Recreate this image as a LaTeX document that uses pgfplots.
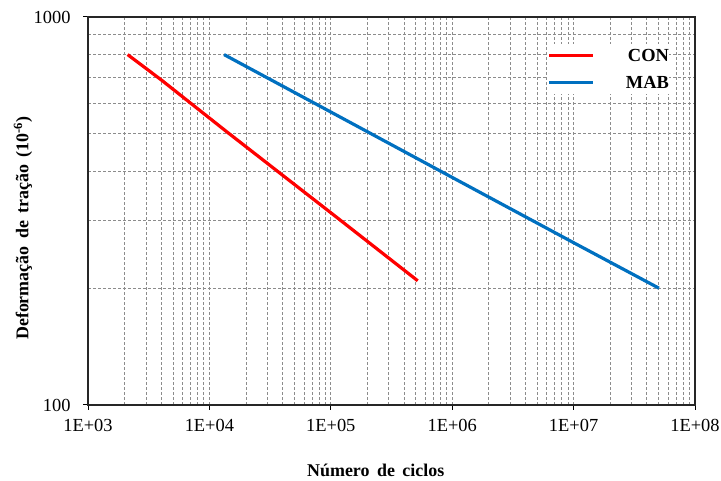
\documentclass[border=0pt]{standalone}
\usepackage{fontspec}
\setmainfont{Liberation Serif}
\usepackage{pgfplots}
\pgfplotsset{compat=1.18}
\definecolor{conred}{HTML}{FF0000}
\definecolor{mabblue}{HTML}{0070C0}
\definecolor{gridgray}{HTML}{8C8C8C}
\begin{document}
\begin{tikzpicture}
\path[use as bounding box] (-88bp,-76bp) rectangle (633bp,405bp);
\begin{axis}[
  at={(0,0)}, anchor=south west,
  scale only axis, width=607bp, height=388bp,
  xmode=log, ymode=log,
  xmin=1e3, xmax=1e8, ymin=100, ymax=1000,
  xtick={1e3,1e4,1e5,1e6,1e7,1e8},
  xticklabels={1E+03,1E+04,1E+05,1E+06,1E+07,1E+08},
  ytick={100,1000}, yticklabels={100,1000},
  minor xtick={2e3,3e3,4e3,5e3,6e3,7e3,8e3,9e3,
               2e4,3e4,4e4,5e4,6e4,7e4,8e4,9e4,
               2e5,3e5,4e5,5e5,6e5,7e5,8e5,9e5,
               2e6,3e6,4e6,5e6,6e6,7e6,8e6,9e6,
               2e7,3e7,4e7,5e7,6e7,7e7,8e7,9e7},
  minor ytick={200,300,400,500,600,700,800,900},
  grid=both,
  major grid style={gridgray, dash pattern=on 3bp off 2bp, line width=0.7bp},
  minor grid style={gridgray, dash pattern=on 3bp off 2bp, line width=0.7bp},
  tick align=outside, xtick pos=bottom, ytick pos=left,
  major tick length=5bp, minor tick length=0pt,
  tick style={black, line width=1bp},
  axis line style={black!85, line width=1.3bp},
  tick label style={font=\fontsize{18.5}{21}\selectfont},
  xticklabel style={yshift=-6bp},
  yticklabel style={xshift=-9bp},
  xlabel={\textbf{Número\, de\, ciclos}},
  ylabel={\textbf{Deformação\, de\, tração\, (10\textsuperscript{-6})}},
  label style={font=\fontsize{18}{21}\selectfont},
  xlabel style={at={(axis description cs:0.474,-0.169)}, anchor=center},
  ylabel style={at={(axis description cs:-0.107,0.456)}, anchor=center},
  legend style={at={(axis description cs:0.757,0.931)}, anchor=north west,
    draw=none, fill=white, inner xsep=0pt, inner ysep=5bp, row sep=14bp,
    nodes={inner sep=0pt, text height=13bp, text depth=0bp},
    font=\fontsize{18.5}{21}\selectfont},
  legend image code/.code={\draw[#1] (0bp,0bp) -- (44bp,0bp);},
]
\addplot[conred, line width=3.2bp] coordinates {
  (2120,800) (4000,689) (13900,506) (100000,313) (520000,209)};
\addlegendentry{\makebox[74bp][r]{\textbf{CON}}\hspace{17bp}}
\addplot[mabblue, line width=3.2bp] coordinates {
  (13200,800) (100000,569) (1000000,386) (10000000,262) (50500000,200)};
\addlegendentry{\makebox[74bp][r]{\textbf{MAB}}\hspace{17bp}}
\end{axis}
\end{tikzpicture}
\end{document}
